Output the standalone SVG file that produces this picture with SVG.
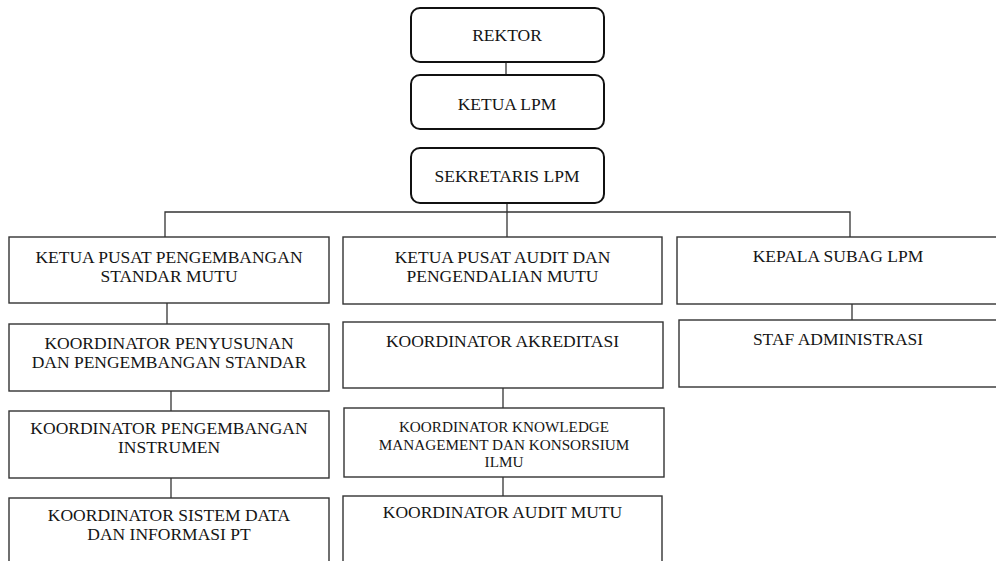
<svg xmlns="http://www.w3.org/2000/svg" width="996" height="561" viewBox="0 0 996 561">
<style>
.top{fill:#fff;stroke:#111;stroke-width:2}
.box{fill:#fff;stroke:#333;stroke-width:1.4}
.ln{fill:none;stroke:#333;stroke-width:1.3}
text{font-family:"Liberation Serif","Times New Roman",serif;font-size:17.5px;fill:#151515;text-anchor:middle}
.sm{font-size:15.2px}
</style>
<rect width="996" height="561" fill="#fff"/>
<g id="connectors">
<line class="ln" x1="506" y1="62" x2="506" y2="75"/>
<line class="ln" x1="507" y1="203" x2="507" y2="237"/>
<polyline class="ln" points="165,237 165,212 850,212 850,237"/>
<line class="ln" x1="167" y1="303" x2="167" y2="324"/>
<line class="ln" x1="171" y1="391" x2="171" y2="411"/>
<line class="ln" x1="171" y1="478" x2="171" y2="498"/>
<line class="ln" x1="503" y1="388" x2="503" y2="408"/>
<line class="ln" x1="503" y1="477" x2="503" y2="496"/>
<line class="ln" x1="852" y1="304" x2="852" y2="320"/>
</g>
<g id="rektor"><rect class="top" x="411" y="8" width="193" height="54" rx="9"/><text x="507" y="41">REKTOR</text></g>
<g id="ketua-lpm"><rect class="top" x="411" y="75" width="193" height="54" rx="9"/><text x="507" y="110">KETUA LPM</text></g>
<g id="sekretaris-lpm"><rect class="top" x="411" y="148" width="193" height="55" rx="9"/><text x="507" y="182">SEKRETARIS LPM</text></g>
<g id="ketua-psm"><rect class="box" x="9" y="237" width="320" height="66"/><text x="169" y="263">KETUA PUSAT PENGEMBANGAN</text><text x="169" y="282">STANDAR MUTU</text></g>
<g id="koord-penyusunan"><rect class="box" x="9" y="324" width="320" height="67"/><text x="169" y="349">KOORDINATOR PENYUSUNAN</text><text x="169" y="368">DAN PENGEMBANGAN STANDAR</text></g>
<g id="koord-instrumen"><rect class="box" x="9" y="411" width="320" height="67"/><text x="169" y="434">KOORDINATOR PENGEMBANGAN</text><text x="169" y="453">INSTRUMEN</text></g>
<g id="koord-sistem"><rect class="box" x="9" y="498" width="320" height="80"/><text x="169" y="521">KOORDINATOR SISTEM DATA</text><text x="169" y="540">DAN INFORMASI PT</text></g>
<g id="ketua-audit"><rect class="box" x="343" y="237" width="319" height="67"/><text x="502.5" y="263">KETUA PUSAT AUDIT DAN</text><text x="502.5" y="282">PENGENDALIAN MUTU</text></g>
<g id="koord-akreditasi"><rect class="box" x="343" y="322" width="320" height="66"/><text x="502.5" y="347">KOORDINATOR AKREDITASI</text></g>
<g id="koord-knowledge"><rect class="box" x="344" y="408" width="320" height="69"/><text class="sm" x="504" y="432">KOORDINATOR KNOWLEDGE</text><text class="sm" x="504" y="450">MANAGEMENT DAN KONSORSIUM</text><text class="sm" x="504" y="467">ILMU</text></g>
<g id="koord-audit-mutu"><rect class="box" x="343" y="496" width="319" height="80"/><text x="502.5" y="518">KOORDINATOR AUDIT MUTU</text></g>
<g id="kepala-subag"><rect class="box" x="677" y="237" width="330" height="67"/><text x="838" y="262">KEPALA SUBAG LPM</text></g>
<g id="staf-admin"><rect class="box" x="679" y="320" width="330" height="67"/><text x="838" y="345">STAF ADMINISTRASI</text></g>
</svg>
